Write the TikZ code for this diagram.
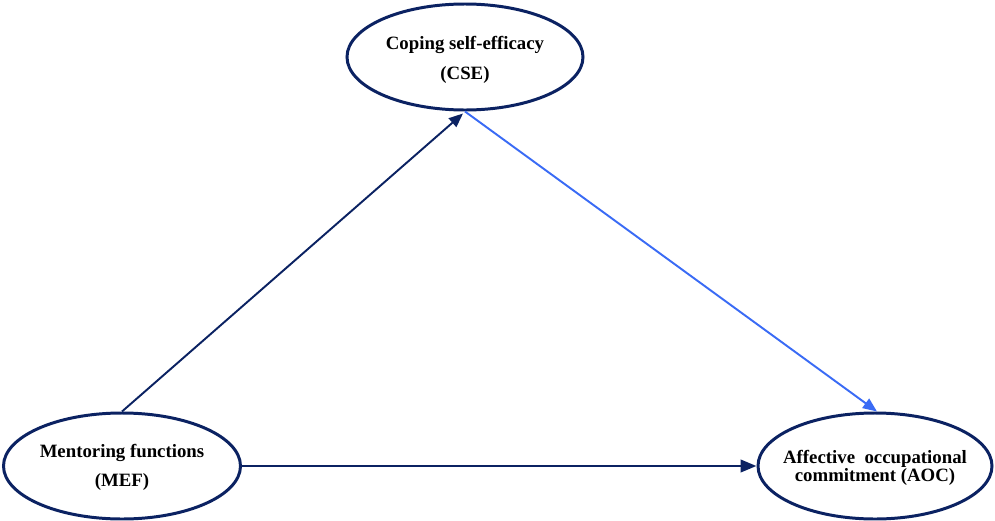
\documentclass[tikz,border=0pt]{standalone}
\usepackage{fontspec}
\setmainfont{Liberation Serif}
\usetikzlibrary{arrows.meta,shapes.geometric}
\definecolor{navy}{HTML}{0B2262}
\definecolor{brightblue}{HTML}{3A6BF5}
\begin{document}
\begin{tikzpicture}[x=0.02cm,y=-0.02cm,
  construct/.style={draw=navy,line width=1.7pt,fill=white,ellipse,inner sep=0pt,
    minimum height=106*0.02cm},
  ctext/.style={align=center,inner sep=0pt,font=\bfseries\fontsize{10.7}{17}\selectfont},
  link/.style={draw=navy,line width=1.1pt,-{Triangle[length=8pt,width=6.5pt]}},
  thicklink/.style={draw=navy,line width=1.6pt,-{Triangle[length=9pt,width=7pt]}},
  link2/.style={draw=brightblue,line width=1.1pt,-{Triangle[length=8pt,width=6.5pt]}}]
\useasboundingbox (0,0) rectangle (995,521);
\node[construct,minimum width=236*0.02cm] (cse) at (465,57) {};
\node[construct,minimum width=237*0.02cm] (mef) at (122,466) {};
\node[construct,minimum width=234*0.02cm] (aoc) at (875,466) {};
\node[ctext] (cset) at ([yshift=-0.06cm]cse.center) {Coping self-efficacy\\(CSE)};
\node[ctext,font=\bfseries\fontsize{10.7}{16.5}\selectfont] (meft) at ([yshift=-0.02cm]mef.center) {Mentoring functions\\(MEF)};
\node[ctext,font=\bfseries\fontsize{10.7}{10.5}\selectfont] (aoct) at ([yshift=-0.04cm]aoc.center) {Affective\ \ occupational\\commitment (AOC)};
\draw[link] (mef.north) -- ([xshift=-0.04cm,yshift=-0.04cm]cse.south);
\draw[link2] (cse.south) -- ([xshift=0.04cm]aoc.north);
\draw[thicklink] (mef.east) -- (aoc.west);
\end{tikzpicture}
\end{document}
